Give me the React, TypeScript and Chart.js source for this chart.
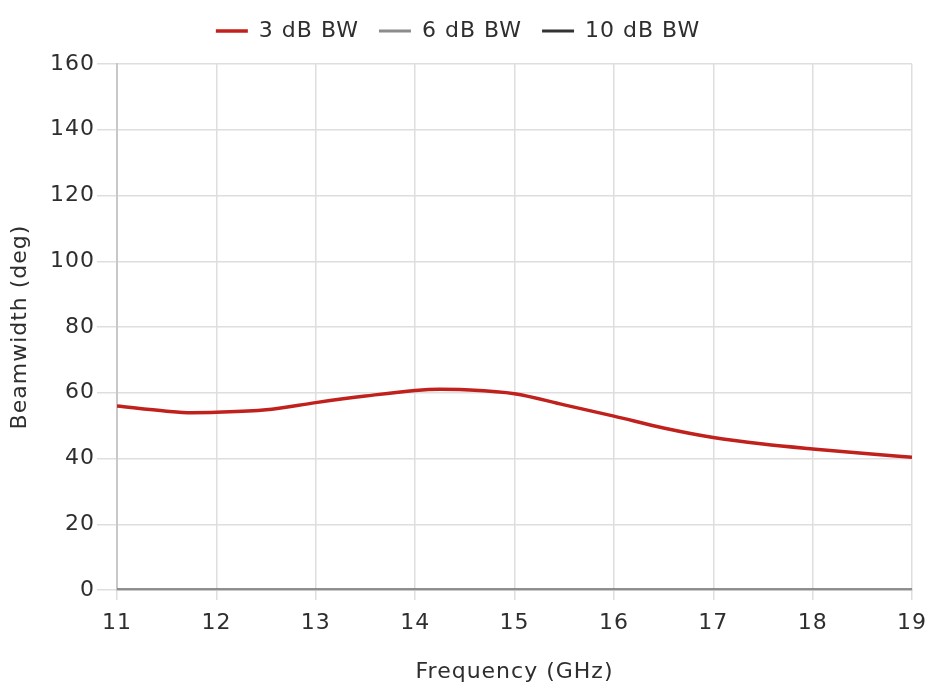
import React, { useEffect, useRef } from "react";
import { Chart, registerables } from "chart.js";

Chart.register(...registerables);

const frequencies = [11, 11.5, 11.75, 12, 12.5, 13, 13.5, 14, 14.25, 14.5, 15, 15.5, 16, 16.5, 17, 17.5, 18, 18.5, 19];
const bw3dB = [56.0, 54.4, 53.95, 54.05, 54.8, 57.0, 59.0, 60.7, 61.05, 60.9, 59.7, 56.3, 52.9, 49.3, 46.4, 44.4, 42.9, 41.6, 40.4];
const bwFreqEnds = [11, 19];
const bw6dB = [0, 0];
const bw10dB = [0, 0];
const yTicks = [0, 20, 40, 60, 80, 100, 120, 140, 160];

const FONT = "'DejaVu Sans', sans-serif";
const FS = 22;
const TEXT = "#2e2e2e";

const spacingPlugin = {
  id: "letterSpacing",
  beforeUpdate(chart: any) {
    chart.ctx.letterSpacing = "1px";
  },
  beforeDraw(chart: any) {
    chart.ctx.letterSpacing = "1px";
  },
};

export default function App() {
  const ref = useRef<HTMLCanvasElement | null>(null);
  useEffect(() => {
    document.body.style.margin = "0";
    const ctx = ref.current!;
    const chart = new Chart(ctx, {
      type: "line",
      plugins: [spacingPlugin],
      data: {
        datasets: [
          {
            label: "3 dB BW",
            data: frequencies.map((f, i) => ({ x: f, y: bw3dB[i] })),
            borderColor: "#c0211d",
            backgroundColor: "#c0211d",
            borderWidth: 3.5,
            pointRadius: 0,
            cubicInterpolationMode: "monotone",
          },
          {
            label: "6 dB BW",
            data: bwFreqEnds.map((f, i) => ({ x: f, y: bw6dB[i] })),
            borderColor: "#8c8c8c",
            backgroundColor: "#8c8c8c",
            borderWidth: 3,
            pointRadius: 0,
          },
          {
            label: "10 dB BW",
            data: bwFreqEnds.map((f, i) => ({ x: f, y: bw10dB[i] })),
            borderColor: "#333333",
            backgroundColor: "#333333",
            borderWidth: 3,
            pointRadius: 0,
          },
        ],
      },
      options: {
        animation: false,
        responsive: false,
        maintainAspectRatio: false,
        layout: { padding: { left: 4, right: 18, top: 0, bottom: 7 } },
        plugins: {
          legend: {
            position: "top",
            labels: {
              usePointStyle: true,
              pointStyle: "line",
              pointStyleWidth: 32,
              color: TEXT,
              font: { family: FONT, size: FS },
              padding: 20,
            },
          },
          title: {
            display: true,
            text: " ",
            weight: 500,
            font: { size: 1, lineHeight: 1 },
            padding: { top: 11, bottom: 0 },
          } as any,
          tooltip: { enabled: false },
        },
        scales: {
          x: {
            type: "linear",
            min: 11,
            max: 19,
            afterFit: (axis: any) => {
              axis.height = 99;
              axis.paddingRight = 0;
              axis.paddingLeft = 0;
            },
            ticks: { stepSize: 1, color: TEXT, font: { family: FONT, size: FS }, padding: 10 },
            grid: { color: "#dedede", lineWidth: 1.5, tickLength: 10 },
            border: { color: "#c8c8c8", width: 2 },
            title: {
              display: true,
              text: "Frequency (GHz)",
              color: TEXT,
              font: { family: FONT, size: FS },
              padding: { top: 10, bottom: 4 },
            },
          },
          y: {
            type: "linear",
            min: 0,
            max: 160,
            afterFit: (axis: any) => {
              axis.width = 113;
            },
            afterBuildTicks: (axis: any) => {
              axis.ticks = yTicks.map((v) => ({ value: v }));
            },
            ticks: { color: TEXT, font: { family: FONT, size: FS }, padding: 2 },
            grid: { color: "#dedede", lineWidth: 1.5, tickLength: 20 },
            border: { color: "#c8c8c8", width: 2 },
            title: {
              display: true,
              text: "Beamwidth (deg)",
              color: TEXT,
              font: { family: FONT, size: FS },
              padding: { top: 3, bottom: 4 },
            },
          },
        },
      },
    });
    return () => chart.destroy();
  }, []);
  return (
    <div style={{ width: 930, height: 696 }}>
      <canvas ref={ref} width={930} height={696} style={{ display: "block" }} />
    </div>
  );
}
